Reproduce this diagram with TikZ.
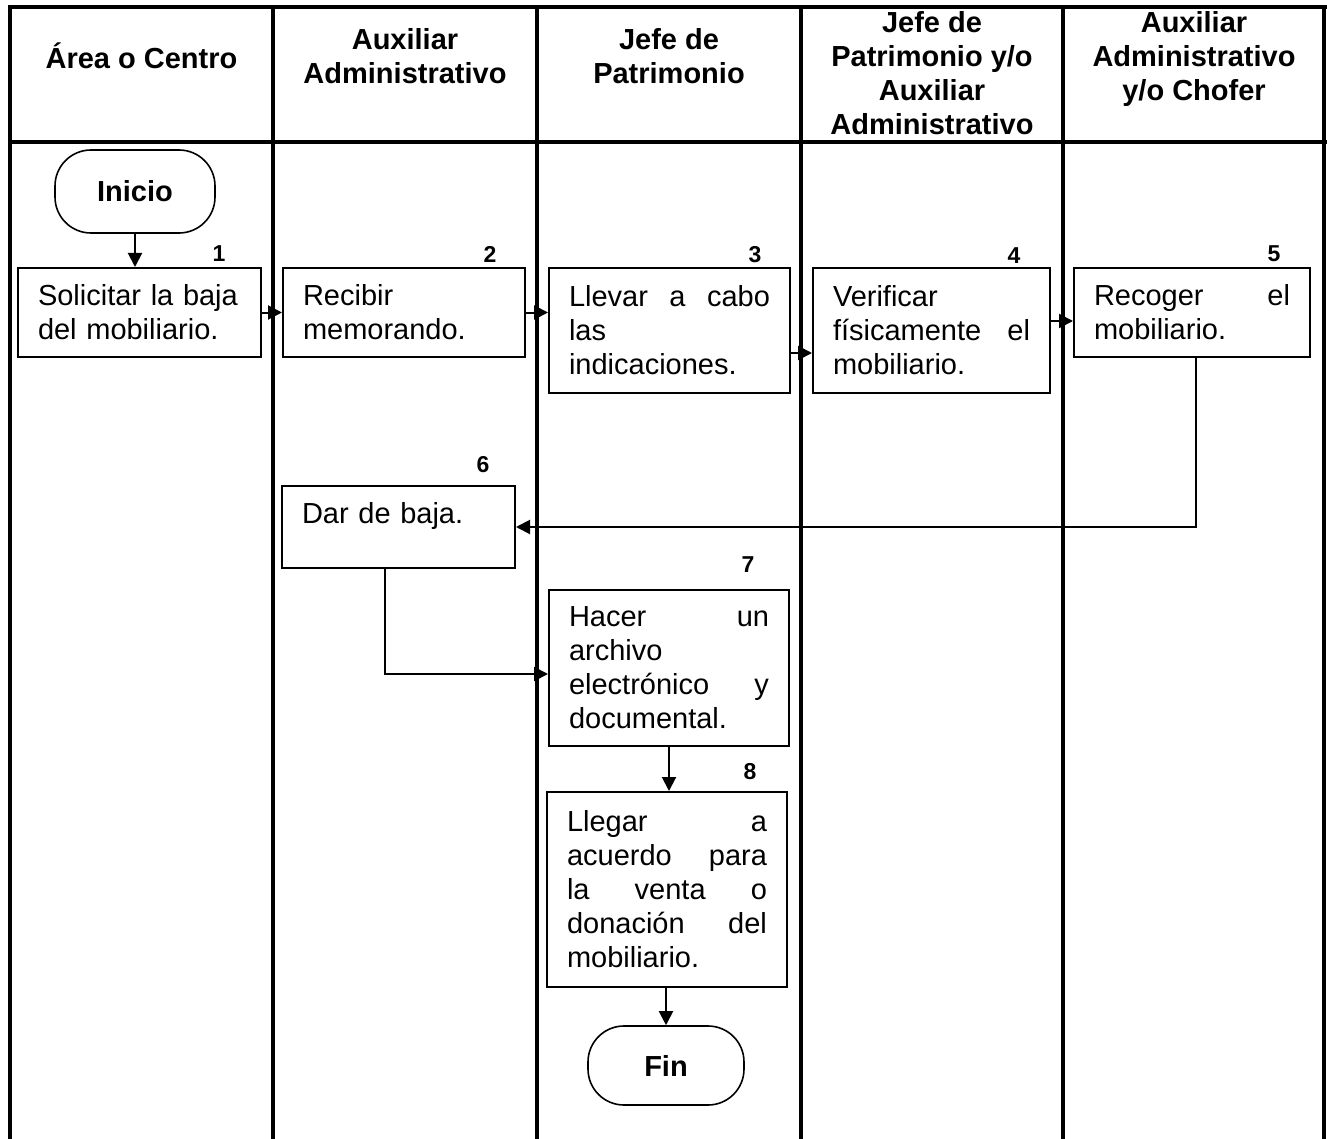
\documentclass[tikz,border=0pt]{standalone}
\usepackage{fontspec}
\setmainfont{Liberation Sans}
\usetikzlibrary{arrows.meta}
\begin{document}
\begin{tikzpicture}[x=0.5pt,y=-0.5pt,
  lane/.style={line width=1.9pt},
  hline/.style={line width=2.2pt},
  hdr/.style={font=\bfseries\fontsize{14.5}{17}\selectfont, align=center, inner sep=0pt},
  stepbox/.style={draw, line width=1pt, rectangle, align=left, inner xsep=10pt, inner ysep=0pt, font=\fontsize{14.5}{17}\selectfont},
  term/.style={draw, line width=0.8pt, rounded corners=18pt, font=\bfseries\fontsize{14.5}{17}\selectfont},
  num/.style={font=\bfseries\fontsize{11.5}{13}\selectfont, inner sep=0pt},
  arr/.style={line width=1pt, -{Triangle[length=7pt,width=7pt]}}]

\useasboundingbox (0,0) rectangle (1327,1139);

% swimlane grid
\draw[hline] (8,7) -- (1327,7);
\draw[hline] (8,142) -- (1327,142);
\foreach \x in {10,273,537,801,1063,1324} \draw[lane] (\x,6) -- (\x,1139);

% headers
\node[hdr] (h1) at (141.5,56) {Área o Centro};
\node[hdr] (h2) at (405,56.5) {Auxiliar\\Administrativo};
\node[hdr] (h3) at (669,56.5) {Jefe de\\Patrimonio};
\node[hdr] (h4) at (932,73.5) {Jefe de\\Patrimonio y/o\\Auxiliar\\Administrativo};
\node[hdr] (h5) at (1194,59.5) {Auxiliar\\Administrativo\\y/o Chofer};

% terminals
\node[term, minimum width=80pt, minimum height=41.5pt] (ini) at (135,191.5) {Inicio};
\node[term, minimum width=78pt, minimum height=39.5pt] (fin) at (666,1065.5) {Fin};

% steps
\node[stepbox, text width=101.5pt, minimum height=44.5pt] (s1) at (139.5,312.5) {Solicitar la baja\\del mobiliario.};
\node[stepbox, text width=101pt, minimum height=44.5pt] (s2) at (404,312.5) {Recibir\\memorando.};
\node[stepbox, text width=100.5pt, minimum height=62.5pt] (s3) at (669.5,330.5) {Llevar\hfill a\hfill cabo\\las\\indicaciones.};
\node[stepbox, text width=98.5pt, minimum height=62.5pt] (s4) at (931.5,330.5) {Verificar\\físicamente\hfill el\\mobiliario.};
\node[stepbox, text width=98pt, minimum height=44.5pt] (s5) at (1192,312.5) {Recoger\hfill el\\mobiliario.};
\node[stepbox, text width=96.5pt, minimum height=41pt] (s6) at (398.5,527) {Dar de baja.\\[-8pt]\strut};
\node[stepbox, text width=100pt, minimum height=78pt] (s7) at (669,668) {Hacer\hfill un\\archivo\\electrónico\hfill y\\documental.};
\node[stepbox, text width=100pt, minimum height=97.5pt] (s8) at (667,889.5) {Llegar\hfill a\\acuerdo\hfill para\\la\hfill venta\hfill o\\donación\hfill del\\mobiliario.};

% step numbers
\node[num] (n1) at (219,254) {1};
\node[num] (n2) at (490,254) {2};
\node[num] (n3) at (755,255) {3};
\node[num] (n4) at (1014,256) {4};
\node[num] (n5) at (1274,254) {5};
\node[num] (n6) at (483,465) {6};
\node[num] (n7) at (748,565) {7};
\node[num] (n8) at (750,772) {8};

% helper levels
\coordinate (y34) at (0,353);
\coordinate (y45) at (0,321);

% connectors
\draw[arr] (ini.south) -- (ini.south |- s1.north);
\draw[arr] (s1.east) -- (s2.west);
\draw[arr] (s2.east) -- (s2.east -| s3.west);
\draw[arr] (s3.east |- y34) -- (s4.west |- y34);
\draw[arr] (s4.east |- y45) -- (s5.west |- y45);
\draw[arr] ([xshift=2pt]s5.south) |- (s6.east);
\draw[arr] ([xshift=-7pt]s6.south) |- ([yshift=-3pt]s7.west);
\draw[arr] (s7.south) -- (s7.south |- s8.north);
\draw[arr] (fin.north |- s8.south) -- (fin.north);
\end{tikzpicture}
\end{document}
